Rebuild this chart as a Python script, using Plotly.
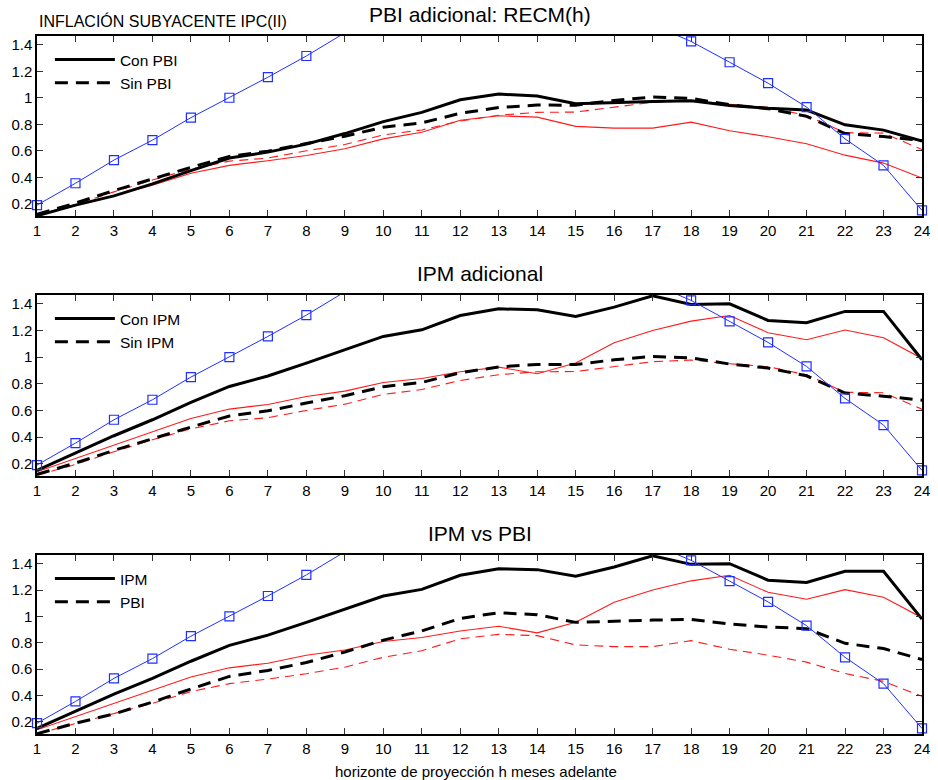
import plotly.graph_objects as go

horizons = list(range(1, 25))

# Reference (blue, squares) line – identical in every panel
blue_ref = [0.19, 0.355, 0.53, 0.68, 0.85, 1.0, 1.155, 1.315, 1.49, 1.64, 1.78, 1.90,
            1.97, 1.95, 1.87, 1.72, 1.55, 1.425, 1.268, 1.11, 0.93, 0.69, 0.49, 0.15]

# Model with PBI (Con PBI): black (thick) and red (thin) metrics
con_pbi_black = [0.11, 0.19, 0.26, 0.35, 0.45, 0.545, 0.59, 0.65, 0.73, 0.82, 0.89, 0.985,
                 1.028, 1.013, 0.955, 0.965, 0.972, 0.977, 0.942, 0.92, 0.907, 0.796, 0.756, 0.673]
con_pbi_red = [0.11, 0.185, 0.26, 0.34, 0.43, 0.49, 0.525, 0.565, 0.615, 0.69, 0.74, 0.83,
               0.864, 0.854, 0.784, 0.771, 0.771, 0.816, 0.751, 0.706, 0.653, 0.567, 0.507, 0.394]

# Baseline model (Sin PBI / Sin IPM)
sin_black = [0.12, 0.205, 0.30, 0.39, 0.475, 0.558, 0.597, 0.655, 0.71, 0.778, 0.81, 0.883,
             0.926, 0.945, 0.944, 0.98, 1.005, 0.995, 0.948, 0.918, 0.86, 0.73, 0.707, 0.677]
sin_red = [0.112, 0.195, 0.29, 0.38, 0.462, 0.522, 0.545, 0.60, 0.647, 0.72, 0.757, 0.825,
           0.868, 0.89, 0.892, 0.928, 0.966, 0.978, 0.95, 0.928, 0.867, 0.736, 0.733, 0.609]

# Model with IPM (Con IPM)
con_ipm_black = [0.15, 0.28, 0.41, 0.53, 0.66, 0.78, 0.858, 0.955, 1.055, 1.155, 1.205, 1.312,
                 1.362, 1.355, 1.305, 1.375, 1.46, 1.395, 1.40, 1.275, 1.258, 1.343, 1.343, 0.98]
con_ipm_red = [0.14, 0.24, 0.34, 0.44, 0.54, 0.61, 0.645, 0.705, 0.745, 0.81, 0.84, 0.89,
               0.925, 0.875, 0.955, 1.107, 1.20, 1.27, 1.312, 1.183, 1.13, 1.203, 1.145, 0.99]

panels = [
    {"title": "PBI adicional: RECM(h)",
     "solid": ("Con PBI", con_pbi_black, con_pbi_red),
     "dash": ("Sin PBI", sin_black, sin_red)},
    {"title": "IPM adicional",
     "solid": ("Con IPM", con_ipm_black, con_ipm_red),
     "dash": ("Sin IPM", sin_black, sin_red)},
    {"title": "IPM vs PBI",
     "solid": ("IPM", con_ipm_black, con_ipm_red),
     "dash": ("PBI", con_pbi_black, con_pbi_red)},
]

y_ticks = [0.2, 0.4, 0.6, 0.8, 1.0, 1.2, 1.4]
y_tick_text = ["0.2", "0.4", "0.6", "0.8", "1", "1.2", "1.4"]
y_range = [0.108, 1.466]

FONT = "Liberation Sans, Arial, Helvetica, sans-serif"

# pixel geometry of plot area: top 36, bottom 734 (height 698)
TOP, BOT = 36, 734
H = BOT - TOP
panel_px = [(36, 216), (295, 476), (555, 734)]
domains = [[(BOT - b) / H, (BOT - t) / H] for (t, b) in panel_px]

fig = go.Figure()

for i, p in enumerate(panels):
    n = "" if i == 0 else str(i + 1)
    xa, ya = "x" + n, "y" + n
    leg = "legend" + n
    sname, sblack, sred = p["solid"]
    dname, dblack, dred = p["dash"]
    fig.add_trace(go.Scatter(x=horizons, y=dred, mode="lines", xaxis=xa, yaxis=ya,
                             line=dict(color="#ff1a1a", width=1.1, dash="9px,6px"),
                             showlegend=False, hoverinfo="skip"))
    fig.add_trace(go.Scatter(x=horizons, y=sred, mode="lines", xaxis=xa, yaxis=ya,
                             line=dict(color="#ff1a1a", width=1.1),
                             showlegend=False, hoverinfo="skip"))
    fig.add_trace(go.Scatter(x=horizons, y=sblack, mode="lines", xaxis=xa, yaxis=ya,
                             name=sname, legend=leg,
                             line=dict(color="black", width=3)))
    fig.add_trace(go.Scatter(x=horizons, y=dblack, mode="lines", xaxis=xa, yaxis=ya,
                             name=dname, legend=leg,
                             line=dict(color="black", width=3, dash="13px,8px")))
    fig.add_trace(go.Scatter(x=horizons, y=blue_ref, mode="lines", xaxis=xa, yaxis=ya,
                             line=dict(color="#1f2fff", width=1),
                             showlegend=False, hoverinfo="skip"))
    fig.add_trace(go.Scatter(x=horizons, y=blue_ref, mode="markers", xaxis=xa, yaxis=ya,
                             marker=dict(symbol="square-open", size=9, color="#1f2fff",
                                         line=dict(width=1.2, color="#1f2fff")),
                             cliponaxis=False, showlegend=False, hoverinfo="skip"))

    axis_common = dict(showline=True, linecolor="black", linewidth=1.5, mirror="ticks",
                       ticks="inside", ticklen=6, tickcolor="#333333", tickwidth=1,
                       showgrid=False, zeroline=False,
                       tickfont=dict(family=FONT, size=15, color="black"))
    fig.layout["xaxis" + n] = dict(axis_common, domain=[0, 1], range=[1, 24],
                                   tickvals=horizons, anchor=ya)
    fig.layout["yaxis" + n] = dict(axis_common, domain=domains[i], range=y_range,
                                   tickvals=y_ticks, ticktext=y_tick_text, anchor=xa)
    legend_top = (BOT - (panel_px[i][0] + 7)) / H
    fig.layout[leg] = dict(x=(50 - 37) / 893, y=legend_top, xanchor="left", yanchor="top",
                           bgcolor="rgba(0,0,0,0)", borderwidth=0, itemwidth=60,
                           tracegroupgap=0,
                           font=dict(family=FONT, size=15.5, color="black"))
    title_y = (BOT - (panel_px[i][0] - 22)) / H
    fig.add_annotation(text=p["title"], xref="paper", yref="paper", x=0.5, y=title_y,
                       xanchor="center", yanchor="middle", showarrow=False,
                       font=dict(family=FONT, size=21, color="black"))

fig.add_annotation(text="INFLACIÓN SUBYACENTE IPC(II)", xref="paper", yref="paper",
                   x=0.0, y=(BOT - 21) / H, xanchor="left", yanchor="middle",
                   showarrow=False, font=dict(family=FONT, size=16, color="black"))
fig.add_annotation(text="horizonte de proyección h meses adelante", xref="paper",
                   yref="paper", x=(480 - 37) / 893, y=(BOT - 771) / H,
                   xanchor="center", yanchor="middle", showarrow=False,
                   font=dict(family=FONT, size=15, color="black"))

fig.update_layout(width=938, height=780, margin=dict(l=37, r=8, t=36, b=46),
                  plot_bgcolor="white", paper_bgcolor="white",
                  font=dict(family=FONT, color="black"))

fig.write_html("out.html")
